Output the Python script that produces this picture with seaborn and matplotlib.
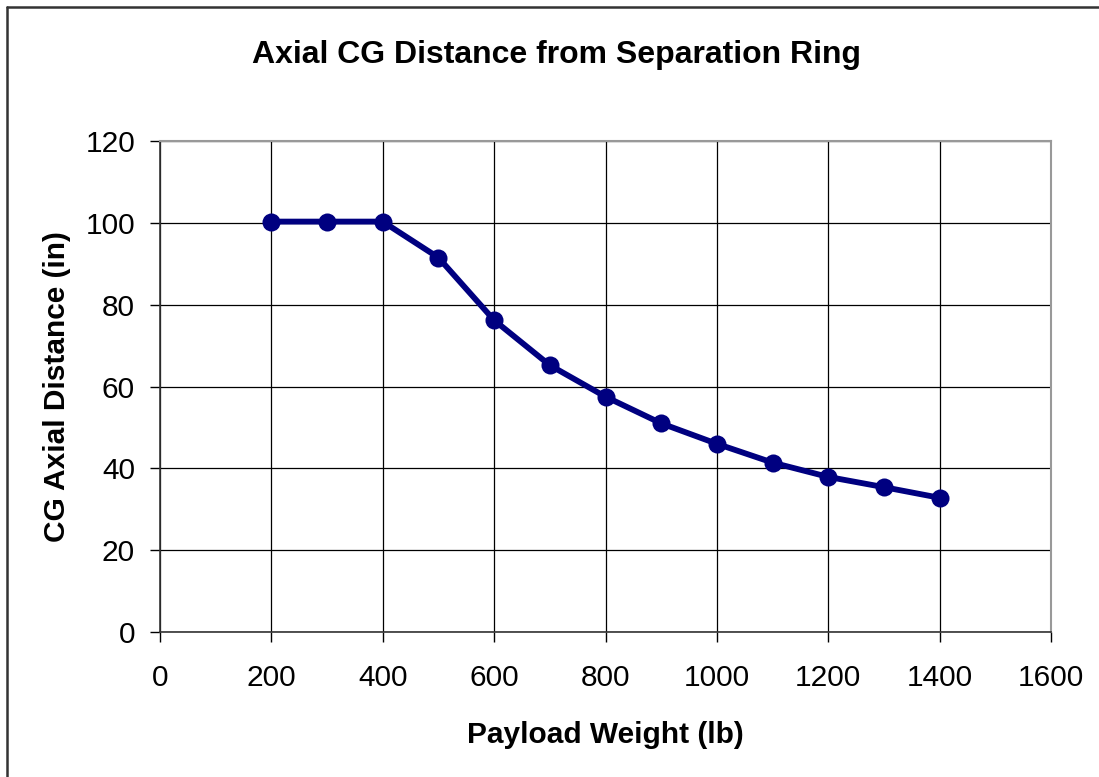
import matplotlib
matplotlib.use("Agg")
import matplotlib.pyplot as plt
import seaborn as sns
import pandas as pd
from matplotlib.lines import Line2D

payload_lb = [200, 300, 400, 500, 600, 700, 800, 900, 1000, 1100, 1200, 1300, 1400]
cg_axial_in = [100.3, 100.3, 100.3, 91.5, 76.2, 65.2, 57.5, 51.0, 46.0, 41.4, 37.9, 35.4, 32.8]
x_ticks = [0, 200, 400, 600, 800, 1000, 1200, 1400, 1600]
y_ticks = [0, 20, 40, 60, 80, 100, 120]

title = "Axial CG Distance from Separation Ring"
x_label = "Payload Weight (lb)"
y_label = "CG Axial Distance (in)"

sns.set_theme(style="white")
plt.rcParams['font.family'] = ['Liberation Sans', 'DejaVu Sans']

df = pd.DataFrame({"x": payload_lb, "y": cg_axial_in})

fig = plt.figure(figsize=(10.99, 7.77), dpi=100)
ax = fig.add_axes([160 / 1099, 1 - 632 / 777, (1051 - 160) / 1099, (632 - 141) / 777])

sns.lineplot(data=df, x="x", y="y", ax=ax, color="#000080", linewidth=4.2,
             marker="o", markersize=13, markeredgewidth=0, zorder=5)

ax.set_xlim(0, 1600)
ax.set_ylim(0, 120)
ax.set_xticks(x_ticks)
ax.set_yticks(y_ticks)
ax.set_xticklabels([str(v) for v in x_ticks])
ax.set_yticklabels([str(v) for v in y_ticks])
ax.grid(True, color="black", linewidth=0.9)
ax.set_axisbelow(True)

ax.tick_params(axis="both", which="major", labelsize=21.5, length=7, width=1,
               color="black", direction="out", labelcolor="black")
ax.tick_params(axis="x", pad=16, bottom=True)
ax.tick_params(axis="y", pad=11, left=True)

for s in ["left", "bottom"]:
    ax.spines[s].set_color("#333333")
    ax.spines[s].set_linewidth(1.2)
for s in ["top", "right"]:
    ax.spines[s].set_color("#999999")
    ax.spines[s].set_linewidth(1.5)

ax.set_xlabel(x_label, fontsize=21.5, fontweight="bold", color="black", labelpad=21)
ax.set_ylabel(y_label, fontsize=21.5, fontweight="bold", color="black", labelpad=10)

fig.text(557 / 1099, 1 - 55 / 777, title, ha="center", va="center",
         fontsize=23, fontweight="bold", color="black")

# figure border (left and top visible)
fig.add_artist(Line2D([7 / 1099, 7 / 1099], [0, 1 - 7 / 777], transform=fig.transFigure,
                      color="#333333", linewidth=1.8))
fig.add_artist(Line2D([7 / 1099, 1], [1 - 7 / 777, 1 - 7 / 777], transform=fig.transFigure,
                      color="#333333", linewidth=1.8))

fig.savefig("out.png", dpi=100, facecolor="white")
